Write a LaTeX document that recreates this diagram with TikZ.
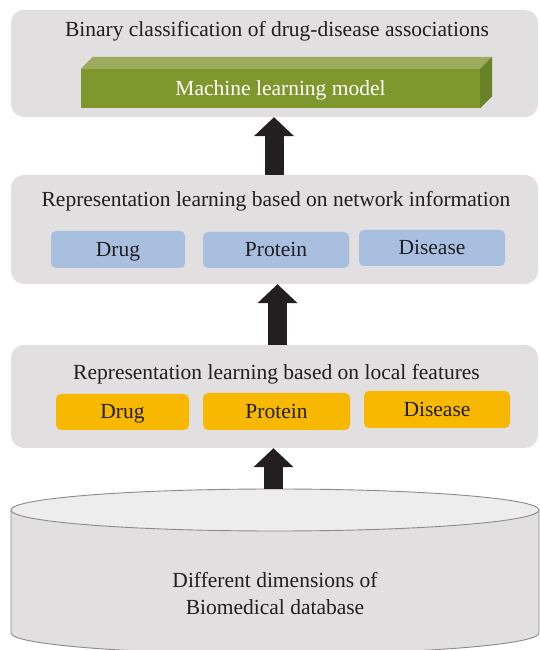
\documentclass[tikz,border=0pt]{standalone}
\usepackage{fontspec}
\setmainfont{Liberation Serif}
\usetikzlibrary{arrows.meta}

\definecolor{panelgray}{HTML}{E1DFE0}
\definecolor{cyltop}{HTML}{EDEDED}
\definecolor{cylline}{HTML}{8A8A8A}
\definecolor{mlfront}{HTML}{7E982E}
\definecolor{mltop}{HTML}{9CAB5E}
\definecolor{mlside}{HTML}{678227}
\definecolor{netblue}{HTML}{A9BFE0}
\definecolor{featorange}{HTML}{F9B800}
\definecolor{arrowblack}{HTML}{231F20}

\tikzset{
  panel/.style={fill=panelgray, rounded corners=13pt, inner sep=0pt},
  capcentred/.style={text height=14pt, text depth=0pt},
  heading/.style={font=\fontsize{21.5}{24}\selectfont, inner sep=0pt, text=black!88, capcentred},
  entity/.style={rounded corners=5pt, inner sep=0pt, font=\fontsize{21.5}{24}\selectfont,
    text=black!88, capcentred},
  netbox/.style={entity, fill=netblue},
  featbox/.style={entity, fill=featorange},
  upflow/.style={draw=arrowblack, line width=19pt,
    -{Triangle[width=39pt, length=19pt, fill=arrowblack]}},
}

\begin{document}
\begin{tikzpicture}[x=1pt, y=1pt]
  \useasboundingbox (0,0) rectangle (539,650);

  % three stacked stage panels
  \node[panel, minimum width=527pt, minimum height=107pt] (p1) at (274.5,586.5) {};
  \node[panel, minimum width=527pt, minimum height=109pt] (p2) at (274.5,420.5) {};
  \node[panel, minimum width=527pt, minimum height=103pt] (p3) at (274.5,253.5) {};

  % top stage: classifier
  \node[heading] (t1) at (277,620) {Binary classification of drug-disease associations};
  \node[fill=mlfront, minimum width=399pt, minimum height=39pt, inner sep=0pt, capcentred,
        font=\fontsize{21.5}{24}\selectfont, text=white] (ml) at (280.5,561.5) {Machine learning model};
  \fill[mltop] (ml.north west) -- ++(12,12) -- ([xshift=12pt,yshift=12pt]ml.north east) -- (ml.north east) -- cycle;
  \fill[mlside] (ml.north east) -- ++(12,12) -- ([xshift=12pt,yshift=12pt]ml.south east) -- (ml.south east) -- cycle;

  % middle stage: network-based representations
  \node[heading] (t2) at (276,450) {Representation learning based on network information};
  \node[netbox, minimum width=134pt, minimum height=37pt] (nd) at (118,400.5) {Drug};
  \node[netbox, minimum width=146pt, minimum height=36pt] (np) at (276,400) {Protein};
  \node[netbox, minimum width=146pt, minimum height=36pt] (ns) at (432,402) {Disease};

  % lower stage: local-feature representations
  \node[heading] (t3) at (276.5,277) {Representation learning based on local features};
  \node[featbox, minimum width=133pt, minimum height=36pt] (fd) at (122.5,238) {Drug};
  \node[featbox, minimum width=147pt, minimum height=37pt] (fp) at (276.5,238.5) {Protein};
  \node[featbox, minimum width=146pt, minimum height=37pt] (fs) at (437,240.5) {Disease};

  % database cylinder
  \filldraw[fill=panelgray, draw=cylline, line width=0.9pt]
    (11,140) -- (11,17) arc[start angle=180, end angle=360, x radius=264, y radius=21]
    -- (539,140) -- cycle;
  \filldraw[fill=cyltop, draw=cylline, line width=0.9pt]
    (275,140) ellipse[x radius=264, y radius=21];
  \coordinate (dbtop) at (273.5,161);
  \node[align=center, inner sep=0pt, text=black!88, font=\fontsize{21.5}{27}\selectfont] (db) at (275,56)
    {Different dimensions of\\Biomedical database};

  % upward flow between stages
  \draw[upflow] (dbtop) -- (p3.south -| dbtop);
  \draw[upflow] ([xshift=3pt]p3.north) -- ([xshift=3pt]p2.south);
  \draw[upflow] ([xshift=-0.5pt]p1.south |- p2.north) -- ([xshift=-0.5pt]p1.south);
\end{tikzpicture}
\end{document}
